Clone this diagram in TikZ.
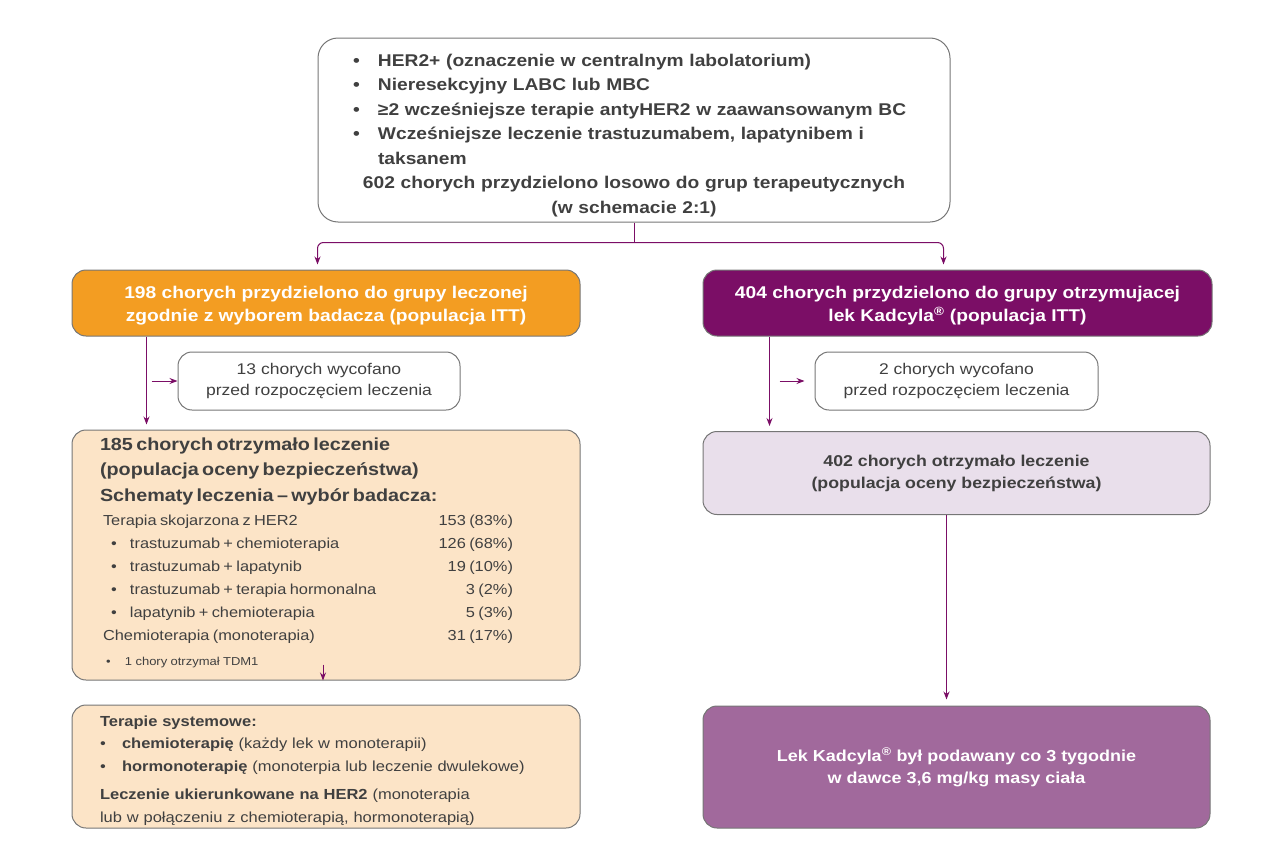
\documentclass[tikz,border=0pt]{standalone}
\usepackage{fontspec}
\setmainfont[FakeStretch=1.13]{Liberation Sans}
\usepackage{tikz}
\usetikzlibrary{arrows.meta,positioning,calc}
\usepackage{xcolor}
\definecolor{kadpurple}{RGB}{123,14,102}
\definecolor{tpcorange}{RGB}{243,157,34}
\definecolor{peach}{RGB}{252,228,199}
\definecolor{lavender}{RGB}{233,223,235}
\definecolor{mauve}{RGB}{161,105,156}
\definecolor{boxgray}{RGB}{118,118,118}
\definecolor{txtgray}{RGB}{64,64,64}
\newcommand{\dotitem}[1][25pt]{\makebox[#1][l]{\textbullet}}

\begin{document}
\begin{tikzpicture}[x=1pt, y=-1pt,
    box/.style={draw=boxgray, line width=1pt, rounded corners=14pt, text=txtgray, inner ysep=0pt},
    flow/.style={kadpurple, line width=1pt, -{Stealth[length=8pt,width=6pt]}},
    link/.style={kadpurple, line width=1pt}]
    \useasboundingbox (0,0) rectangle (1280,862);

    % Inclusion criteria
    \node[box, rounded corners=20pt, minimum height=184pt, text width=562pt, inner xsep=35pt,
          align=left, font=\fontsize{17}{24.5}\selectfont\bfseries] (crit) at (634,130) {
        \rule{0pt}{23pt}\dotitem HER2+ (oznaczenie w centralnym labolatorium)\\
        \dotitem Nieresekcyjny LABC lub MBC\\
        \dotitem ≥2 wcześniejsze terapie antyHER2 w zaawansowanym BC\\
        \dotitem Wcześniejsze leczenie trastuzumabem, lapatynibem i\\
        \hspace*{25pt}taksanem\\
        \makebox[562pt]{602 chorych przydzielono losowo do grup terapeutycznych}\\
        \makebox[562pt]{(w schemacie 2:1)}};

    % Randomised arms (ITT)
    \node[box, fill=tpcorange, text=white, minimum width=508pt, minimum height=66pt, align=center,
          font=\fontsize{17}{23}\selectfont\bfseries] (itt198) at (326,303)
        {\rule{0pt}{18pt}198 chorych przydzielono do grupy leczonej\\zgodnie z wyborem badacza (populacja ITT)};
    \node[box, fill=kadpurple, text=white, minimum width=509pt, minimum height=66pt, align=center,
          font=\fontsize{17}{23}\selectfont\bfseries] (itt404) at (957.5,303)
        {\rule{0pt}{18pt}404 chorych przydzielono do grupy otrzymujacej\\lek Kadcyla\textsuperscript{®} (populacja ITT)};

    % Withdrawn before treatment
    \node[box, minimum width=282pt, minimum height=58pt, align=center,
          font=\fontsize{15.5}{21}\selectfont] (wd13) at (319,381)
        {13 chorych wycofano\\przed rozpoczęciem leczenia};
    \node[box, minimum width=283pt, minimum height=58pt, align=center,
          font=\fontsize{15.5}{21}\selectfont] (wd2) at (956.5,381)
        {2 chorych wycofano\\przed rozpoczęciem leczenia};

    % Safety population, investigator's choice
    \node[box, fill=peach, minimum height=250pt, text width=452pt, inner xsep=28pt, align=left] (safe185) at (326,555) {
        {\fontsize{17.5}{25.5}\selectfont\bfseries 185 chorych otrzymało leczenie\\
        (populacja oceny bezpieczeństwa)\\
        Schematy leczenia -- wybór badacza:\par}
        \vspace{4pt}
        {\fontsize{14.5}{23}\selectfont
        \begin{tabular*}{413pt}{@{\hspace{3pt}}l@{\extracolsep{\fill}}r@{}}
        Terapia skojarzona z HER2 & 153 (83\%)\\
        \hspace*{8pt}\dotitem[19pt]trastuzumab + chemioterapia & 126 (68\%)\\
        \hspace*{8pt}\dotitem[19pt]trastuzumab + lapatynib & 19 (10\%)\\
        \hspace*{8pt}\dotitem[19pt]trastuzumab + terapia hormonalna & 3 (2\%)\\
        \hspace*{8pt}\dotitem[19pt]lapatynib + chemioterapia & 5 (3\%)\\
        Chemioterapia (monoterapia) & 31 (17\%)\\[2pt]
        \multicolumn{2}{@{\hspace{3pt}}l}{\fontsize{11.5}{14}\selectfont\hspace*{3pt}\dotitem[19pt]1 chory otrzymał TDM1}
        \end{tabular*}\par}};

    % Safety population, Kadcyla
    \node[box, fill=lavender, minimum width=507pt, minimum height=83pt, align=center,
          font=\fontsize{15.7}{22}\selectfont\bfseries] (safe402) at (956.5,473)
        {402 chorych otrzymało leczenie\\(populacja oceny bezpieczeństwa)};

    % Later therapies
    \node[box, fill=peach, minimum height=123pt, text width=452pt, inner xsep=28pt, align=left,
          font=\fontsize{14.6}{22.5}\selectfont] (sys) at (326,766.5) {
        \rule{0pt}{19pt}\textbf{Terapie systemowe:}\\
        \dotitem[22pt]\textbf{chemioterapię} (każdy lek w monoterapii)\\
        \dotitem[22pt]\textbf{hormonoterapię} (monoterpia lub leczenie dwulekowe)\\[6pt]
        \textbf{Leczenie ukierunkowane na HER2} (monoterapia\\
        lub w połączeniu z chemioterapią, hormonoterapią)};

    % Dosing
    \node[box, fill=mauve, text=white, minimum width=507pt, minimum height=122pt, align=center,
          font=\fontsize{15.9}{22}\selectfont\bfseries] (dose) at (956.5,767)
        {Lek Kadcyla\textsuperscript{®} był podawany co 3 tygodnie\\w dawce 3,6 mg/kg masy ciała};

    % Connectors
    \coordinate (split) at ($(crit.south)+(0,20)$);
    \draw[link] (crit.south) -- (split);
    \draw[flow, rounded corners=6pt] (split) -| ($(crit.west |- itt198.north)+(0,-5)$);
    \draw[flow, rounded corners=6pt] (split) -| ($(crit.east |- itt404.north)+(-7,-5)$);

    \draw[flow] ($(itt198.south west)+(75,0)$) -- ($(safe185.north west)+(75,-5)$);
    \draw[flow] ($(wd13.west)+(-26,0)$) -- (wd13.west);
    \draw[flow] ($(itt404.south west)+(67,0)$) -- ($(safe402.north west)+(67,-5)$);
    \draw[flow] ($(wd2.west)+(-35,0)$) -- ($(wd2.west)+(-10,0)$);

    \draw[flow] ($(safe185.south)+(-3,-16)$) -- ($(safe185.south)+(-3,0)$);
    \draw[flow] ($(safe402.south)+(-10,0)$) -- ($(dose.north)+(-10,-6)$);

\end{tikzpicture}
\end{document}
